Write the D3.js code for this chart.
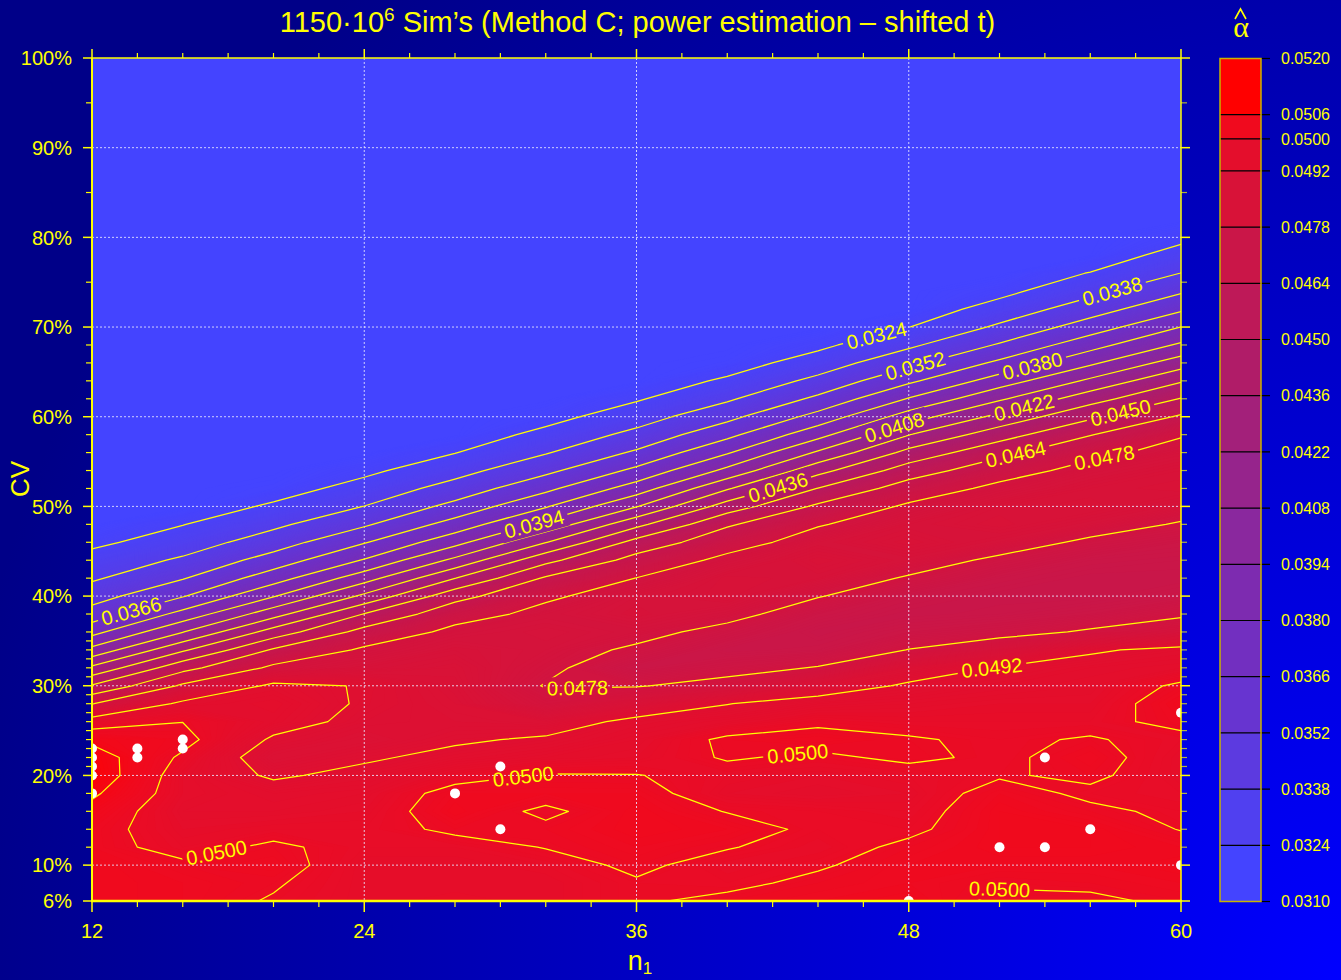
<!DOCTYPE html>
<html><head><meta charset="utf-8">
<script src="https://cdn.jsdelivr.net/npm/d3@7"></script>
<style>
body{margin:0;background:#00008b;}
svg{display:block;font-family:"Liberation Sans",Arial,sans-serif;}
</style>
</head><body>
<svg id="chart" width="1341" height="980"></svg>
<script>
// ---------------- DATA ----------------
const titleMain = "1150·10";
const titleSup = "6";
const titleRest = " Sim’s (Method C; power estimation – shifted t)";
const xLabel = "n", xLabelSub = "1";
const yLabel = "CV";

// grid: n1 columns, CV rows (CV in %)
const n1Grid = [12,16,20,24,28,32,36,40,44,48,52,56,60];
const cvGrid = [6,8,10,12,14,16,18,20,22,24,26,28,30,32,34,36,38,40,42,44,46,48,50,52,54,56,58,60,62,64,66,68,70,72,74,76,78,80,82,84,86,88,90,92,94,96,98,100];

// estimated alpha-hat at each grid node (one array per n1 column, CV ascending)
const alphaN12 = [0.0503,0.0503,0.0503,0.0502,0.0502,0.0504,0.0507,0.0510,0.0509,0.05047,0.04967,0.04776,0.04512,0.04248,0.0398,0.03753,0.0358,0.0346,0.0336,0.0329,0.0321,
 0.0316,0.0316,0.0316,0.0316,0.0316,0.0316,0.0316,0.0316,0.0316,0.0316,0.0316,0.0316,0.0316,0.0316,0.0316,0.0316,0.0316,0.0316,0.0316,0.0316,0.0316,0.0316,0.0316,0.0316,0.0316,0.0316,0.0316];
const alphaN16 = [0.0502,0.0502,0.0501,0.0498,0.0497,0.0496,0.0497,0.0497,0.0499,0.0502,0.04999,0.04941,0.04802,0.04595,0.04338,0.04075,0.03844,0.0365,0.0351,0.0340,0.0331,0.03236,
 0.0316,0.0316,0.0316,0.0316,0.0316,0.0316,0.0316,0.0316,0.0316,0.0316,0.0316,0.0316,0.0316,0.0316,0.0316,0.0316,0.0316,0.0316,0.0316,0.0316,0.0316,0.0316,0.0316,0.0316,0.0316,0.0316];
const alphaN20 = [0.04996,0.05005,0.0502,0.0501,0.0498,0.0496,0.0495,0.0491,0.0488,0.0491,0.0495,0.0496,0.0494,0.04808,0.04657,0.0442,0.04166,0.0393,0.03735,0.0358,0.0345,0.0335,0.0326,0.0318,
 0.0316,0.0316,0.0316,0.0316,0.0316,0.0316,0.0316,0.0316,0.0316,0.0316,0.0316,0.0316,0.0316,0.0316,0.0316,0.0316,0.0316,0.0316,0.0316,0.0316,0.0316,0.0316,0.0316,0.0316];
const alphaN24 = [0.0497,0.0497,0.0497,0.0498,0.0498,0.0497,0.0496,0.0494,0.0491,0.0488,0.0490,0.04912,0.04915,0.0484,0.0480,0.0469,0.04505,0.0425,0.0402,0.0381,0.0365,0.0350,0.03382,0.0329,0.0321,
 0.0316,0.0316,0.0316,0.0316,0.0316,0.0316,0.0316,0.0316,0.0316,0.0316,0.0316,0.0316,0.0316,0.0316,0.0316,0.0316,0.0316,0.0316,0.0316,0.0316,0.0316,0.0316,0.0316];
const alphaN28 = [0.0498,0.0497,0.0497,0.0498,0.0501,0.0503,0.0502,0.0498,0.0494,0.0491,0.0489,0.0488,0.0487,0.0486,0.0484,0.0481,0.04734,0.04592,0.04357,0.04113,0.03894,0.03716,0.03561,0.03434,0.0333,0.03236,
 0.0316,0.0316,0.0316,0.0316,0.0316,0.0316,0.0316,0.0316,0.0316,0.0316,0.0316,0.0316,0.0316,0.0316,0.0316,0.0316,0.0316,0.0316,0.0316,0.0316,0.0316,0.0316];
const alphaN32 = [0.0497,0.0497,0.0498,0.05002,0.0501,0.0499,0.0502,0.05004,0.0496,0.0493,0.0488,0.0481,0.04775,0.0480,0.0482,0.0483,0.0481,0.04763,0.04658,0.04459,0.04215,0.03979,0.03788,0.03625,0.03486,0.0337,0.03278,0.03193,
 0.0316,0.0316,0.0316,0.0316,0.0316,0.0316,0.0316,0.0316,0.0316,0.0316,0.0316,0.0316,0.0316,0.0316,0.0316,0.0316,0.0316,0.0316,0.0316,0.0316];
const alphaN36 = [0.04995,0.04995,0.0501,0.0502,0.0503,0.0503,0.0502,0.05002,0.0497,0.0496,0.0494,0.0486,0.04775,0.0472,0.04765,0.0481,0.0484,0.0483,0.04782,0.04693,0.0455,0.04322,0.04072,0.03865,0.03693,0.03541,0.03418,0.03316,0.03226,
 0.0316,0.0316,0.0316,0.0316,0.0316,0.0316,0.0316,0.0316,0.0316,0.0316,0.0316,0.0316,0.0316,0.0316,0.0316,0.0316,0.0316,0.0316,0.0316];
const alphaN40 = [0.0501,0.0499,0.0498,0.05003,0.0502,0.04998,0.0497,0.0498,0.05005,0.0501,0.0496,0.04918,0.0481,0.0475,0.0471,0.0475,0.0481,0.0485,0.0485,0.0481,0.0473,0.04623,0.04425,0.04205,0.03975,0.03786,0.03621,0.03479,0.0336,0.03261,0.03177,
 0.0316,0.0316,0.0316,0.0316,0.0316,0.0316,0.0316,0.0316,0.0316,0.0316,0.0316,0.0316,0.0316,0.0316,0.0316,0.0316,0.0316];
const alphaN44 = [0.0502,0.0501,0.04995,0.0498,0.0499,0.0499,0.0496,0.0497,0.0499,0.0502,0.0499,0.0495,0.0488,0.04785,0.0472,0.0470,0.0473,0.04785,0.0484,0.0486,0.0483,0.04772,0.04666,0.04504,0.04315,0.0410,0.03891,0.03709,0.03549,0.03417,0.03304,0.03208,
 0.0316,0.0316,0.0316,0.0316,0.0316,0.0316,0.0316,0.0316,0.0316,0.0316,0.0316,0.0316,0.0316,0.0316,0.0316,0.0316];
const alphaN48 = [0.0503,0.0502,0.0502,0.0501,0.0499,0.0498,0.0497,0.0498,0.0501,0.05005,0.0498,0.0496,0.0493,0.0488,0.04782,0.0473,0.0470,0.0472,0.0477,0.0483,0.0486,0.0484,0.0480,0.04707,0.0457,0.04403,0.04216,0.04007,0.03809,0.03632,0.03482,0.03354,0.03238,
 0.0316,0.0316,0.0316,0.0316,0.0316,0.0316,0.0316,0.0316,0.0316,0.0316,0.0316,0.0316,0.0316,0.0316,0.0316];
const alphaN52 = [0.0499,0.05005,0.0502,0.0503,0.0503,0.0503,0.0502,0.04995,0.0499,0.0499,0.0498,0.0497,0.0495,0.04925,0.0484,0.0475,0.0471,0.0470,0.0472,0.0476,0.0483,0.0486,0.0485,0.0481,0.04728,0.04603,0.04439,0.0426,0.04059,0.03866,0.03689,0.03534,0.03404,0.03295,0.03202,
 0.0316,0.0316,0.0316,0.0316,0.0316,0.0316,0.0316,0.0316,0.0316,0.0316,0.0316,0.0316,0.0316];
const alphaN56 = [0.0499,0.0501,0.0502,0.0503,0.0503,0.0501,0.0499,0.0501,0.0502,0.05005,0.0498,0.0497,0.0496,0.0495,0.0491,0.0479,0.0473,0.0470,0.0470,0.0472,0.0476,0.0483,0.0486,0.0485,0.0482,0.0475,0.04634,0.04474,0.04304,0.04108,0.03914,0.03746,0.03588,0.03454,0.03341,0.03245,0.03164,
 0.0316,0.0316,0.0316,0.0316,0.0316,0.0316,0.0316,0.0316,0.0316,0.0316,0.0316];
const alphaN60 = [0.0501,0.0502,0.0503,0.0502,0.04998,0.0499,0.0498,0.0497,0.0497,0.0498,0.0502,0.0503,0.0501,0.0496,0.0494,0.0482,0.0477,0.0472,0.0470,0.0471,0.0473,0.0477,0.0483,0.0486,0.0485,0.0482,0.04771,0.04657,0.04507,0.04347,0.04154,0.03961,0.03802,0.03638,0.03501,0.03382,0.03292,0.03206,
 0.0316,0.0316,0.0316,0.0316,0.0316,0.0316,0.0316,0.0316,0.0316,0.0316];

// contour levels (also colour-bar ticks)
const contourLevels = [0.0324,0.0338,0.0352,0.0366,0.0380,0.0394,0.0408,0.0422,0.0436,0.0450,0.0464,0.0478,0.0492,0.0500,0.0506];
const colorbarLevels = [0.0310,0.0324,0.0338,0.0352,0.0366,0.0380,0.0394,0.0408,0.0422,0.0436,0.0450,0.0464,0.0478,0.0492,0.0500,0.0506,0.0520];
// colour anchors (band mid-values -> colour)
const colorMids = [0.0317,0.0331,0.0345,0.0359,0.0373,0.0387,0.0401,0.0415,0.0429,0.0443,0.0457,0.0471,0.0485,0.0496,0.0503,0.0513];
const colorList = ["#4444ff","#5040f0","#5c3ae0","#6734d0","#722fc0","#7d2bb0","#8a289e","#96248c","#a3207a","#b01c68","#be1958","#ca1648","#d81238","#e40e2c","#f00a1e","#ff0000"];

// contour-label anchors: level, n1, CV
const labelLevels = [0.0324,0.0338,0.0352,0.0366,0.0380,0.0394,0.0408,0.0422,0.0436,0.0450,0.0464,0.0478,0.0478,0.0492,0.0500,0.0500,0.0500,0.0500];
const labelN1     = [46.6,57.1,48.4,13.8,53.5,31.3,47.5,53.1,42.2,57.2,52.7,56.6,33.4,51.7,17.6,31.0,43.1,52.0];
const labelCV     = [68.9,73.9,64.65,37.7,65.2,49.8,57.7,60.9,52.4,61.9,56.0,55.7,29.3,31.2,9.9,20.0,22.5,6.9];

// white marker points (n1, CV)
const dotN1 = [12,12,12,12,12,14,14,16,16,28,30,30,48,52,54,54,56,60,60];
const dotCV = [18,20,21,22,23,22,23,23,24,18,21,14,6,12,12,22,14,10,27];

// axes
const xMajor = [12,24,36,48,60];
const xMinor = [14,16,18,20,22,26,28,30,32,34,38,40,42,44,46,50,52,54,56,58];
const yMajor = [6,10,20,30,40,50,60,70,80,90,100];
const yMinor = [12,14,16,18,21,22,23,24,25,26,27,28,29,31,32,33,34,35,36,38,42,44,46,48,52,54,56,58,62,64,66,68,75,85,95];
const xGrid = [24,36,48];
const yGrid = [10,20,30,40,50,60,70,80,90];

// ---------------- DRAW ----------------
const W=1341,H=980;
const YEL="#ffff00";
const svg=d3.select("#chart");
const defs=svg.append("defs");

const rg=defs.append("radialGradient").attr("id","bg").attr("gradientUnits","userSpaceOnUse")
  .attr("cx",1341).attr("cy",980).attr("r",1400);
rg.append("stop").attr("offset",0).attr("stop-color","#0000ff");
rg.append("stop").attr("offset",1).attr("stop-color","#000088");
svg.append("rect").attr("width",W).attr("height",H).attr("fill","url(#bg)");

const PL=92,PR=1181,PT=58,PB=901;
const x=d3.scaleLinear().domain([12,60]).range([PL,PR]);
const y=d3.scaleLinear().domain([6,100]).range([PB,PT]);
const color=d3.scaleLinear().domain(colorMids).range(colorList).clamp(true);

defs.append("clipPath").attr("id","plotClip").append("rect")
  .attr("x",PL).attr("y",PT).attr("width",PR-PL).attr("height",PB-PT);

// grid values
const columns=[alphaN12,alphaN16,alphaN20,alphaN24,alphaN28,alphaN32,alphaN36,alphaN40,alphaN44,alphaN48,alphaN52,alphaN56,alphaN60];
const nC=n1Grid.length,nR=cvGrid.length;
const values=new Array(nC*nR);
for(let j=0;j<nR;j++)for(let i=0;i<nC;i++)values[j*nC+i]=columns[i][j];

const gx2n=d3.scaleLinear().domain([0.5,nC-0.5]).range([n1Grid[0],n1Grid[nC-1]]);
const gy2cv=d3.scaleLinear().domain([0.5,nR-0.5]).range([cvGrid[0],cvGrid[nR-1]]);
const toPx=p=>[x(gx2n(p[0])),y(gy2cv(p[1]))];
const proj=d3.geoTransform({point:function(a,b){const q=toPx([a,b]);this.stream.point(q[0],q[1]);}});
const path=d3.geoPath(proj);

// continuous-looking fill
const step=0.00005;
const fineTh=d3.range(0.0310,0.0520+1e-9,step);
const gen=d3.contours().size([nC,nR]);
const fills=fineTh.map(t=>gen.contour(values,t));
const plot=svg.append("g").attr("clip-path","url(#plotClip)");
plot.selectAll("path.fill").data(fills).join("path").attr("class","fill")
  .attr("d",path).attr("fill",d=>color(d.value+step/2)).attr("stroke","none");

// gridlines
const grid=plot.append("g").attr("stroke","#e8e8ff").attr("stroke-opacity",0.85)
  .attr("stroke-width",1).attr("stroke-dasharray","2,2");
grid.selectAll("line.gx").data(xGrid).join("line").attr("x1",d=>x(d)).attr("x2",d=>x(d)).attr("y1",PT).attr("y2",PB);
grid.selectAll("line.gy").data(yGrid).join("line").attr("y1",d=>y(d)).attr("y2",d=>y(d)).attr("x1",PL).attr("x2",PR);

// contour lines
const lines=contourLevels.map(t=>gen.contour(values,t));
const mask=defs.append("mask").attr("id","lblMask").attr("maskUnits","userSpaceOnUse")
  .attr("x",0).attr("y",0).attr("width",W).attr("height",H);
mask.append("rect").attr("width",W).attr("height",H).attr("fill","white");
plot.append("g").attr("mask","url(#lblMask)")
  .selectAll("path").data(lines).join("path").attr("d",path)
  .attr("fill","none").attr("stroke",YEL).attr("stroke-width",1.25).attr("stroke-linejoin","round");

// contour labels
function inside(p){return p[0]>=PL+2&&p[0]<=PR-2&&p[1]>=PT+2&&p[1]<=PB-1;}
const labelG=svg.append("g");
labelLevels.forEach((lv,k)=>{
  const geom=lines[contourLevels.indexOf(lv)];
  const ax=x(labelN1[k]),ay=y(labelCV[k]);
  let best=null;
  geom.coordinates.forEach(poly=>poly.forEach(ring=>{
    const pr=ring.map(toPx);
    for(let s=0;s<pr.length-1;s++){
      const a=pr[s],b=pr[s+1];
      if(!inside(a)||!inside(b))continue;
      const dx=b[0]-a[0],dy=b[1]-a[1],L2=dx*dx+dy*dy;if(!L2)continue;
      let t=((ax-a[0])*dx+(ay-a[1])*dy)/L2;t=Math.max(0,Math.min(1,t));
      const qx=a[0]+t*dx,qy=a[1]+t*dy,d=(qx-ax)**2+(qy-ay)**2;
      if(!best||d<best.d)best={d,x:qx,y:qy,ang:Math.atan2(dy,dx)*180/Math.PI};
    }
  }));
  if(!best)return;
  let ang=best.ang;if(ang>90)ang-=180;if(ang<-90)ang+=180;
  const txt=labelG.append("text").attr("transform",`translate(${best.x},${best.y}) rotate(${ang})`)
    .attr("text-anchor","middle").attr("dy","0.36em").attr("fill",YEL).style("font-size","20px")
    .text(lv.toFixed(4));
  const w=txt.node().getComputedTextLength();
  mask.append("rect").attr("transform",`translate(${best.x},${best.y}) rotate(${ang})`)
    .attr("x",-w/2-4).attr("y",-11).attr("width",w+8).attr("height",22).attr("fill","black");
});

// white points
plot.append("g").selectAll("circle").data(dotN1).join("circle")
  .attr("cx",(d,i)=>x(d)).attr("cy",(d,i)=>y(dotCV[i])).attr("r",5).attr("fill","#ffffff");

// axes frame & ticks
const ax=svg.append("g").attr("stroke",YEL);
ax.append("line").attr("x1",PL).attr("x2",PR).attr("y1",PT).attr("y2",PT).attr("stroke-width",1.5);
ax.append("line").attr("x1",PR).attr("x2",PR).attr("y1",PT).attr("y2",PB).attr("stroke-width",1.5);
ax.append("line").attr("x1",PL).attr("x2",PL).attr("y1",PT).attr("y2",PB+1).attr("stroke-width",2);
ax.append("line").attr("x1",PL-1).attr("x2",PR+1).attr("y1",PB).attr("y2",PB).attr("stroke-width",2.5);
ax.selectAll("line.xbM").data(xMajor).join("line").attr("x1",d=>x(d)).attr("x2",d=>x(d)).attr("y1",PB).attr("y2",PB+11).attr("stroke-width",1.5);
ax.selectAll("line.xbm").data(xMinor).join("line").attr("x1",d=>x(d)).attr("x2",d=>x(d)).attr("y1",PB).attr("y2",PB+6).attr("stroke-width",1.2);
ax.selectAll("line.xtM").data(xMajor).join("line").attr("x1",d=>x(d)).attr("x2",d=>x(d)).attr("y1",PT).attr("y2",PT-9).attr("stroke-width",1.5);
ax.selectAll("line.xtm").data(xMinor).join("line").attr("x1",d=>x(d)).attr("x2",d=>x(d)).attr("y1",PT).attr("y2",PT-5).attr("stroke-width",1.2);
ax.selectAll("line.ylM").data(yMajor).join("line").attr("y1",d=>y(d)).attr("y2",d=>y(d)).attr("x1",PL).attr("x2",PL-9).attr("stroke-width",1.5);
ax.selectAll("line.ylm").data(yMinor).join("line").attr("y1",d=>y(d)).attr("y2",d=>y(d)).attr("x1",PL).attr("x2",PL-6).attr("stroke-width",1.2);
ax.selectAll("line.yrM").data(yMajor).join("line").attr("y1",d=>y(d)).attr("y2",d=>y(d)).attr("x1",PR).attr("x2",PR+9).attr("stroke-width",1.5);
ax.selectAll("line.yrm").data(yMinor).join("line").attr("y1",d=>y(d)).attr("y2",d=>y(d)).attr("x1",PR).attr("x2",PR+6).attr("stroke-width",1.2).attr("stroke-opacity",0.7);

// tick labels
const tl=svg.append("g").attr("fill",YEL).style("font-size","20px");
tl.selectAll("text.xl").data(xMajor).join("text").attr("x",d=>x(d)).attr("y",938).attr("text-anchor","middle").text(d=>d);
tl.selectAll("text.yl").data(yMajor).join("text").attr("x",72).attr("y",d=>y(d)).attr("dy","0.36em").attr("text-anchor","end").text(d=>d+"%");

// axis titles
const xt=svg.append("text").attr("x",640).attr("y",970).attr("text-anchor","middle").attr("fill",YEL).style("font-size","27px");
xt.append("tspan").text(xLabel);
xt.append("tspan").attr("dy",4).style("font-size","17px").text(xLabelSub);
svg.append("text").attr("transform","translate(29,479) rotate(-90)").attr("text-anchor","middle")
  .attr("fill",YEL).style("font-size","26px").text(yLabel);

// title
const tt=svg.append("text").attr("x",637.5).attr("y",32).attr("text-anchor","middle").attr("fill",YEL).style("font-size","29px");
tt.append("tspan").text(titleMain);
tt.append("tspan").attr("dy",-11).style("font-size","19px").text(titleSup);
tt.append("tspan").attr("dy",11).text(titleRest);

// colour bar
const CBL=1220,CBR=1261;
const cy=d3.scaleLinear().domain([0.0310,0.0520]).range([901.5,58.5]);
const cb=svg.append("g");
cb.selectAll("rect.band").data(d3.pairs(colorbarLevels)).join("rect")
  .attr("x",CBL).attr("width",CBR-CBL).attr("y",d=>cy(d[1])).attr("height",d=>cy(d[0])-cy(d[1]))
  .attr("fill",d=>color((d[0]+d[1])/2));
cb.selectAll("line.sep").data(colorbarLevels).join("line")
  .attr("x1",(d,i)=>(i===0||i===colorbarLevels.length-1)?CBR:CBL).attr("x2",1270)
  .attr("y1",d=>cy(d)).attr("y2",d=>cy(d)).attr("stroke","#000").attr("stroke-width",1.2);
cb.append("rect").attr("x",CBL).attr("y",cy(0.0520)).attr("width",CBR-CBL).attr("height",cy(0.0310)-cy(0.0520))
  .attr("fill","none").attr("stroke","#c8b400").attr("stroke-width",1.5);
cb.selectAll("text").data(colorbarLevels).join("text").attr("x",1281).attr("y",d=>cy(d)).attr("dy","0.36em")
  .attr("fill",YEL).style("font-size","16px").text(d=>d.toFixed(4));
// alpha-hat title
svg.append("text").attr("x",1241).attr("y",37).attr("text-anchor","middle").attr("fill",YEL)
  .style("font-family","'Liberation Serif','DejaVu Serif',serif").style("font-size","30px").text("α");
svg.append("path").attr("d","M1235,19 L1240.5,9 L1246,19").attr("fill","none").attr("stroke",YEL).attr("stroke-width",1.6);
</script>
</body></html>
